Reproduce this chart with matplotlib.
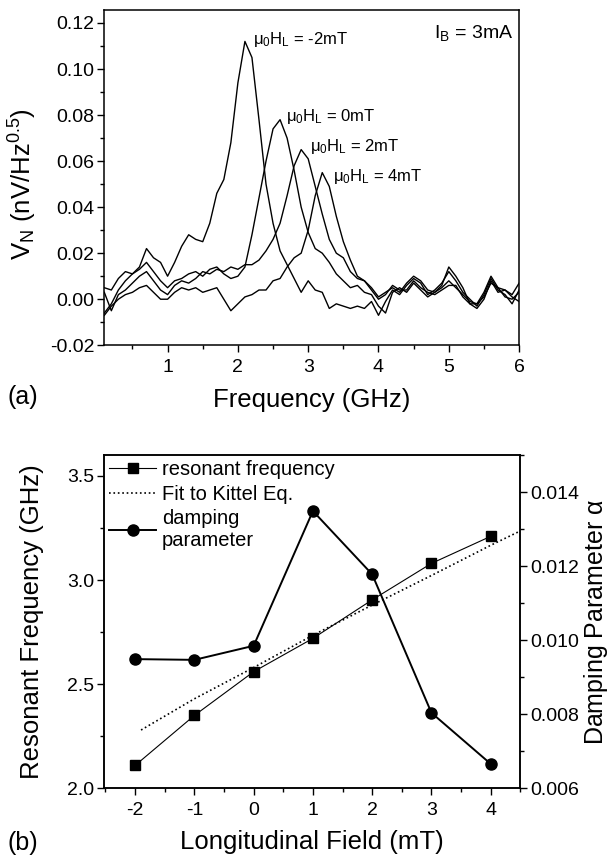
import numpy as np
import matplotlib
matplotlib.use("Agg")
import matplotlib.pyplot as plt
from matplotlib.ticker import MultipleLocator, FormatStrFormatter

plt.rcParams['font.family'] = ['Liberation Sans', 'DejaVu Sans']
plt.rcParams['mathtext.default'] = 'regular'
plt.rcParams['axes.unicode_minus'] = False

# (a) noise spectra, frequency in GHz
freq = np.round(np.arange(0.1, 6.01, 0.1), 2)

vn_m2 = [-0.006, -0.002, 0.004, 0.008, 0.011, 0.014, 0.022, 0.018, 0.016, 0.010,
         0.016, 0.023, 0.028, 0.026, 0.025, 0.033, 0.046, 0.052, 0.068, 0.094,
         0.112, 0.105, 0.078, 0.050, 0.033, 0.021, 0.015, 0.009, 0.003, 0.008,
         0.004, 0.003, -0.004, -0.002, -0.003, -0.004, -0.003, -0.004, -0.001, -0.007,
         -0.001, 0.004, 0.002, 0.006, 0.009, 0.007, 0.002, 0.004, 0.007, 0.012,
         0.008, 0.003, 0.000, -0.003, 0.002, 0.009, 0.004, 0.002, -0.002, 0.004]

vn_0 = [0.005, 0.004, 0.009, 0.012, 0.011, 0.013, 0.016, 0.012, 0.008, 0.005,
        0.008, 0.009, 0.011, 0.012, 0.010, 0.013, 0.014, 0.011, 0.009, 0.010,
        0.014, 0.028, 0.044, 0.060, 0.074, 0.078, 0.070, 0.056, 0.040, 0.029,
        0.022, 0.020, 0.016, 0.011, 0.008, 0.005, 0.006, 0.003, 0.002, -0.003,
        -0.006, 0.003, 0.005, 0.003, 0.007, 0.004, 0.001, 0.003, 0.005, 0.008,
        0.005, 0.002, -0.001, -0.002, 0.001, 0.007, 0.005, 0.001, 0.000, 0.003]

vn_2 = [0.003, -0.005, 0.002, 0.004, 0.007, 0.010, 0.012, 0.008, 0.004, 0.002,
        0.006, 0.008, 0.007, 0.009, 0.012, 0.011, 0.013, 0.012, 0.014, 0.013,
        0.015, 0.015, 0.017, 0.021, 0.026, 0.033, 0.045, 0.058, 0.065, 0.061,
        0.049, 0.037, 0.026, 0.020, 0.018, 0.012, 0.009, 0.008, 0.004, 0.000,
        0.002, 0.006, 0.004, 0.004, 0.008, 0.005, 0.003, 0.002, 0.004, 0.006,
        0.006, 0.001, -0.002, -0.004, 0.000, 0.008, 0.003, 0.004, 0.001, -0.001]

vn_4 = [-0.007, -0.003, 0.000, 0.002, 0.003, 0.005, 0.006, 0.003, 0.000, 0.000,
        0.003, 0.005, 0.004, 0.005, 0.003, 0.004, 0.005, 0.000, -0.005, -0.002,
        0.001, 0.002, 0.004, 0.004, 0.008, 0.009, 0.014, 0.018, 0.020, 0.030,
        0.045, 0.055, 0.049, 0.036, 0.025, 0.017, 0.010, 0.008, 0.005, 0.001,
        0.003, 0.005, 0.003, 0.007, 0.010, 0.008, 0.004, 0.003, 0.006, 0.014,
        0.010, 0.005, -0.002, -0.002, 0.003, 0.010, 0.005, 0.004, 0.002, 0.007]

# (b) resonance vs longitudinal field
field = [-2, -1, 0, 1, 2, 3, 4]
f_res = [2.11, 2.35, 2.56, 2.72, 2.905, 3.08, 3.21]
alpha = [0.00949, 0.00947, 0.00985, 0.01349, 0.01178, 0.00804, 0.00666]
fit_field = [-1.9, -1, 0, 1, 2, 3, 4, 4.5]
fit_freq = [2.28, 2.43, 2.58, 2.735, 2.88, 3.022, 3.167, 3.236]

fig = plt.figure(figsize=(6.1, 8.61), dpi=100)

# ---- panel (a)
ax1 = fig.add_axes([0.171, 0.599, 0.680, 0.389])
for vals in (vn_m2, vn_0, vn_2, vn_4):
    ax1.plot(freq, vals, color='black', lw=1.0)

ax1.set_xlim(0.1, 6.0)
ax1.set_ylim(-0.02, 0.1255)
ax1.xaxis.set_major_locator(MultipleLocator(1))
ax1.xaxis.set_minor_locator(MultipleLocator(0.5))
ax1.yaxis.set_major_locator(MultipleLocator(0.02))
ax1.yaxis.set_minor_locator(MultipleLocator(0.01))
ax1.yaxis.set_major_formatter(FormatStrFormatter('%.2f'))
ax1.set_xticks([1, 2, 3, 4, 5, 6])

ax1.text(2.22, 0.113, r'$\mu_0H_L$ = -2mT', fontsize=12, va='center')
ax1.text(2.68, 0.0795, r'$\mu_0H_L$ = 0mT', fontsize=12, va='center')
ax1.text(3.02, 0.0665, r'$\mu_0H_L$ = 2mT', fontsize=12, va='center')
ax1.text(3.35, 0.0535, r'$\mu_0H_L$ = 4mT', fontsize=12, va='center')
ax1.text(5.92, 0.1155, r'$I_B$ = 3mA', fontsize=14, va='center', ha='right')

ax1.set_xlabel('Frequency (GHz)', fontsize=18.5)
ax1.set_ylabel(r'V$_N$ (nV/Hz$^{0.5}$)', fontsize=18.5)
ax1.xaxis.set_label_coords(0.5, -0.128)
ax1.yaxis.set_label_coords(-0.158, 0.48)
fig.text(0.013, 1 - 397 / 861, '(a)', fontsize=18, va='center')

# ---- panel (b)
ax2 = fig.add_axes([0.171, 0.0844, 0.682, 0.387])
ax3 = ax2.twinx()

l1, = ax2.plot(field, f_res, color='black', lw=0.8, marker='s', ms=7)
l2, = ax2.plot(fit_field, fit_freq, color='black', lw=1.2, ls=':')
l3, = ax3.plot(field, alpha, color='black', lw=1.4, marker='o', ms=8)

ax2.set_xlim(-2.52, 4.5)
ax2.set_ylim(2.0, 3.6)
ax3.set_ylim(0.006, 0.015)
ax2.xaxis.set_major_locator(MultipleLocator(1))
ax2.xaxis.set_minor_locator(MultipleLocator(0.5))
ax2.yaxis.set_major_locator(MultipleLocator(0.5))
ax2.yaxis.set_minor_locator(MultipleLocator(0.25))
ax2.yaxis.set_major_formatter(FormatStrFormatter('%.1f'))
ax3.yaxis.set_major_locator(MultipleLocator(0.002))
ax3.yaxis.set_minor_locator(MultipleLocator(0.001))
ax3.yaxis.set_major_formatter(FormatStrFormatter('%.3f'))

ax2.set_xlabel('Longitudinal Field (mT)', fontsize=18.5)
ax2.set_ylabel('Resonant Frequency (GHz)', fontsize=18.5)
ax3.set_ylabel(r'Damping Parameter $\alpha$', fontsize=18)
ax2.xaxis.set_label_coords(0.5, -0.125)
ax2.yaxis.set_label_coords(-0.145, 0.5)
ax3.yaxis.set_label_coords(1.148, 0.5)
fig.text(0.013, 1 - 843 / 861, '(b)', fontsize=18, va='center')

ax2.legend([l1, l2, l3],
           ['resonant frequency', 'Fit to Kittel Eq.', 'damping\nparameter'],
           loc='upper left', bbox_to_anchor=(0, 1), borderaxespad=0,
           frameon=False, fontsize=14.5, handlelength=2.3, handletextpad=0.3,
           borderpad=0.25, labelspacing=0.28)

for ax in (ax1, ax2, ax3):
    ax.tick_params(which='major', direction='out', length=5, width=1,
                   labelsize=14, pad=2)
    ax.tick_params(which='minor', direction='out', length=3, width=1)
    for s in ax.spines.values():
        s.set_linewidth(1.1)
for ax in (ax1, ax2):
    ax.tick_params(axis='x', which='major', pad=5)

fig.savefig('out.png', dpi=100)
